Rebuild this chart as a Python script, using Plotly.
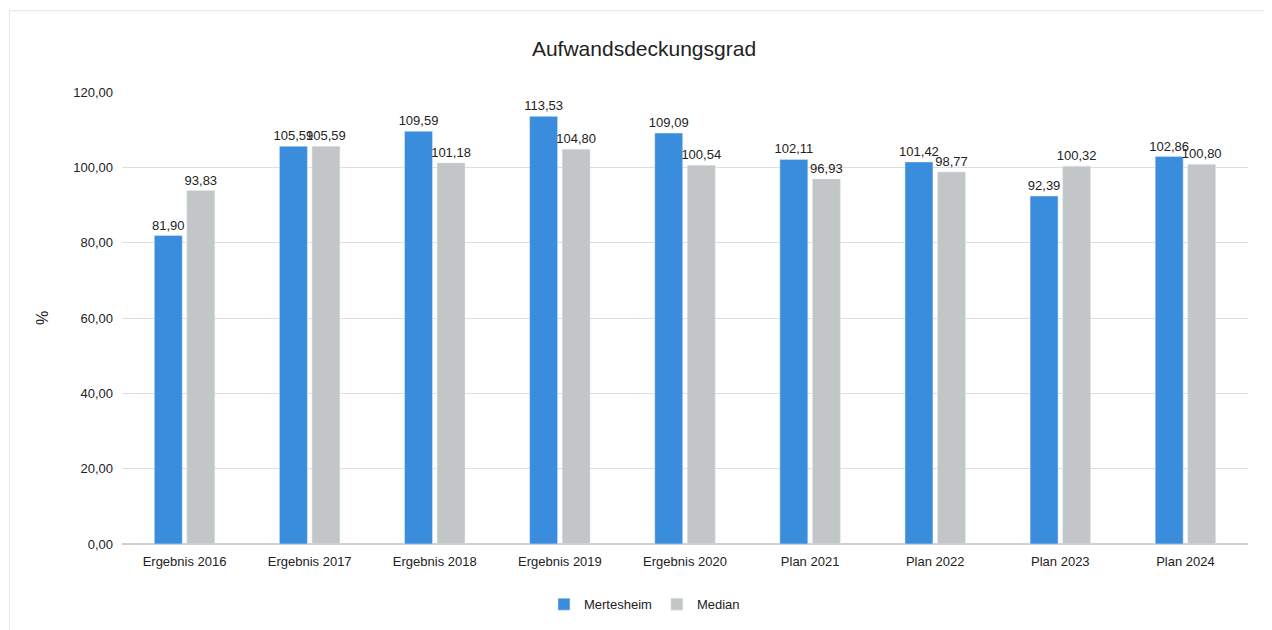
import plotly.graph_objects as go

categories = ["Ergebnis 2016", "Ergebnis 2017", "Ergebnis 2018", "Ergebnis 2019",
              "Ergebnis 2020", "Plan 2021", "Plan 2022", "Plan 2023", "Plan 2024"]
mertesheim = [81.90, 105.59, 109.59, 113.53, 109.09, 102.11, 101.42, 92.39, 102.86]
median = [93.83, 105.59, 101.18, 104.80, 100.54, 96.93, 98.77, 100.32, 100.80]

fig = go.Figure()

fig.add_trace(go.Bar(
    x=categories, y=mertesheim, name="Mertesheim",
    marker_color="#3a8cdc",
    texttemplate="%{y:.2f}", textposition="outside",
    textfont=dict(color="#222222", size=13), cliponaxis=False
))
fig.add_trace(go.Bar(
    x=categories, y=median, name="Median",
    marker_color="#c3c6c7",
    texttemplate="%{y:.2f}", textposition="outside",
    textfont=dict(color="#222222", size=13), cliponaxis=False
))

fig.update_layout(
    width=1272, height=630,
    title=dict(text="Aufwandsdeckungsgrad", x=0.5, y=0.935, xanchor="center",
               yanchor="middle", font=dict(size=21, color="#222222")),
    font=dict(family="Liberation Sans, Arial, sans-serif", color="#222222", size=13),
    separators=",.",
    uniformtext=dict(minsize=13, mode="show"),
    barmode="group", bargap=0.48, bargroupgap=0.14,
    plot_bgcolor="white", paper_bgcolor="white",
    margin=dict(l=114, r=32, t=84, b=94),
    legend=dict(orientation="h", x=0.464, xanchor="center",
                y=-0.1, yanchor="top", font=dict(size=13), itemwidth=30),
    showlegend=True,
    shapes=[dict(type="rect", xref="paper", yref="paper", x0=-0.1, x1=1.02,
                 y0=-0.2, y1=1.18, line=dict(color="#e6e6e6", width=1))]
)
fig.update_yaxes(range=[0, 120], dtick=20, tickformat=".2f", showgrid=True,
                 gridcolor="#dedede", zeroline=True, zerolinecolor="#d0d0d0",
                 title=dict(text="%", standoff=20), ticks="", ticklen=0,
                 ticklabelstandoff=8)
fig.update_xaxes(showline=True, linecolor="#d0d0d0", tickfont=dict(size=13),
                 ticklabelstandoff=5)

fig.write_html("out.html")
